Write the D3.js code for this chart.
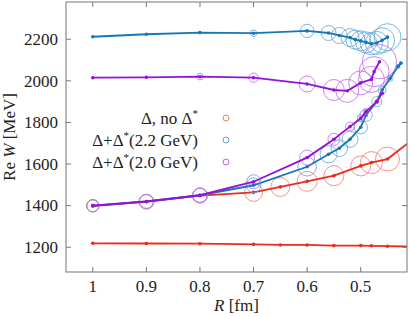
<!DOCTYPE html>
<html>
<head>
<meta charset="utf-8">
<script src="https://cdn.jsdelivr.net/npm/d3@7"></script>
<style>
  body { margin: 0; background: #fff; }
  text { font-family: "Liberation Serif", "DejaVu Serif", serif; fill: #222; }
</style>
</head>
<body>
<div id="chart"></div>
<script>
// tick labels
var xTicks = [1, 0.9, 0.8, 0.7, 0.6, 0.5];
var yTicks = [1200, 1400, 1600, 1800, 2000, 2200];

// Delta, no Delta*  (lower state has no width)
var redLowR = [1, 0.9, 0.8, 0.7, 0.65, 0.6, 0.55, 0.5, 0.48, 0.45, 0.4];
var redLowW = [1219, 1218, 1217, 1214, 1211, 1211, 1208, 1208, 1207, 1205, 1203];
var redLowG = [0, 0, 0, 0, 0, 0, 0, 0, 0, 0, 0];

var redUpR = [1, 0.9, 0.8, 0.7, 0.65, 0.6, 0.55, 0.5, 0.48, 0.45, 0.4];
var redUpW = [1398, 1419, 1448, 1464, 1490, 1517, 1544, 1591, 1607, 1624, 1724];
var redUpG = [60, 75, 75, 90, 95, 100, 100, 100, 110, 120, 0];

// Delta + Delta*(2.2 GeV)
var blueLowR = [1, 0.9, 0.8, 0.7, 0.6, 0.56, 0.54, 0.52, 0.5, 0.49, 0.47, 0.46, 0.445, 0.43, 0.425];
var blueLowW = [1400, 1420, 1450, 1498, 1587, 1647, 1676, 1719, 1777, 1835, 1900, 1956, 2012, 2070, 2085];
var blueLowG = [60, 70, 72, 73, 93, 85, 83, 80, 67, 62, 50, 40, 30, 20, 12];

var blueUpR = [1, 0.9, 0.8, 0.7, 0.6, 0.56, 0.54, 0.52, 0.51, 0.5, 0.49, 0.48, 0.47, 0.46, 0.45];
var blueUpW = [2212, 2224, 2232, 2229, 2240, 2230, 2218, 2208, 2198, 2192, 2185, 2178, 2182, 2195, 2210];
var blueUpG = [0, 0, 5, 33, 67, 75, 80, 90, 95, 100, 105, 110, 115, 125, 135];

// Delta + Delta*(2.0 GeV)
var purpLowR = [1, 0.9, 0.8, 0.7, 0.6, 0.55, 0.52, 0.5, 0.49, 0.47, 0.46];
var purpLowW = [1400, 1420, 1450, 1515, 1631, 1719, 1780, 1820, 1852, 1900, 1940];
var purpLowG = [62, 70, 73, 70, 75, 60, 45, 35, 30, 20, 15];

var purpUpR = [1, 0.9, 0.8, 0.7, 0.6, 0.55, 0.525, 0.5, 0.48, 0.475, 0.465];
var purpUpW = [2015, 2017, 2020, 2015, 1985, 1956, 1952, 1990, 2007, 2044, 2092];
var purpUpG = [0, 0, 33, 47, 80, 105, 115, 120, 130, 150, 170];

function zip(r, w, g) {
    return r.map(function(d, i) { return {r: d, w: w[i], g: g[i]}; });
}

var series = [
    {color: "#ee2a1b", circ: "#f07a72", branches: [zip(redLowR, redLowW, redLowG), zip(redUpR, redUpW, redUpG)]},
    {color: "#1677b6", circ: "#5aa8d8", branches: [zip(blueLowR, blueLowW, blueLowG), zip(blueUpR, blueUpW, blueUpG)]},
    {color: "#9412d8", circ: "#c266ee", branches: [zip(purpLowR, purpLowW, purpLowG), zip(purpUpR, purpUpW, purpUpG)]}
];

var legendLabels = [
    [{t: "Δ, no Δ"}, {t: "*", sup: true}],
    [{t: "Δ+Δ"}, {t: "*", sup: true}, {t: "(2.2 GeV)"}],
    [{t: "Δ+Δ"}, {t: "*", sup: true}, {t: "(2.0 GeV)"}]
];

var width = 409, height = 317;
var pLeft = 66, pRight = 407, pTop = 2, pBottom = 272;

var x = d3.scaleLinear().domain([1.05, 0.4136]).range([pLeft, pRight]);
var y = d3.scaleLinear().domain([1081, 2379]).range([pBottom, pTop]);
var rScale = d3.scaleLinear().domain([0, 100]).range([0, 10]);

var svg = d3.select("#chart").append("svg")
    .attr("width", width)
    .attr("height", height);

svg.append("clipPath").attr("id", "clip")
    .append("rect")
    .attr("x", pLeft).attr("y", pTop)
    .attr("width", pRight - pLeft).attr("height", pBottom - pTop);

var plot = svg.append("g").attr("clip-path", "url(#clip)");

var line = d3.line()
    .x(function(d) { return x(d.r); })
    .y(function(d) { return y(d.w); });

series.forEach(function(s) {
    s.branches.forEach(function(b) {
        plot.append("g").selectAll("circle")
            .data(b.filter(function(d) { return d.g > 0; }))
            .enter().append("circle")
            .attr("cx", function(d) { return x(d.r); })
            .attr("cy", function(d) { return y(d.w); })
            .attr("r", function(d) { return rScale(d.g); })
            .attr("fill", "none")
            .attr("stroke", s.circ)
            .attr("stroke-opacity", 0.8)
            .attr("stroke-width", 1);
    });
    s.branches.forEach(function(b) {
        plot.append("path")
            .datum(b)
            .attr("fill", "none")
            .attr("stroke", s.color)
            .attr("stroke-width", 1.8)
            .attr("d", line);
        plot.append("g").selectAll("circle")
            .data(b)
            .enter().append("circle")
            .attr("cx", function(d) { return x(d.r); })
            .attr("cy", function(d) { return y(d.w); })
            .attr("r", 1.8)
            .attr("fill", s.color);
    });
});

// frame with inward ticks on all sides
var frame = svg.append("g").attr("stroke", "#777").attr("stroke-width", 1);
frame.append("rect")
    .attr("x", pLeft).attr("y", pTop)
    .attr("width", pRight - pLeft).attr("height", pBottom - pTop)
    .attr("fill", "none");

xTicks.forEach(function(t) {
    frame.append("line").attr("x1", x(t)).attr("x2", x(t)).attr("y1", pBottom).attr("y2", pBottom - 5);
    frame.append("line").attr("x1", x(t)).attr("x2", x(t)).attr("y1", pTop).attr("y2", pTop + 5);
});
yTicks.forEach(function(t) {
    frame.append("line").attr("x1", pLeft).attr("x2", pLeft + 5).attr("y1", y(t)).attr("y2", y(t));
    frame.append("line").attr("x1", pRight).attr("x2", pRight - 5).attr("y1", y(t)).attr("y2", y(t));
});

svg.append("g").selectAll("text")
    .data(xTicks)
    .enter().append("text")
    .attr("x", function(d) { return x(d); })
    .attr("y", 292)
    .attr("text-anchor", "middle")
    .attr("font-size", 17)
    .text(function(d) { return d === 1 ? "1" : d3.format(".1f")(d); });

svg.append("g").selectAll("text")
    .data(yTicks)
    .enter().append("text")
    .attr("x", 58)
    .attr("y", function(d) { return y(d); })
    .attr("dy", "0.34em")
    .attr("text-anchor", "end")
    .attr("font-size", 17)
    .text(function(d) { return d; });

// axis titles
var xl = svg.append("text")
    .attr("x", (pLeft + pRight) / 2)
    .attr("y", 311)
    .attr("text-anchor", "middle")
    .attr("font-size", 17);
xl.append("tspan").attr("font-style", "italic").text("R");
xl.append("tspan").text(" [fm]");

var yl = svg.append("text")
    .attr("transform", "translate(15," + ((pTop + pBottom) / 2) + ") rotate(-90)")
    .attr("text-anchor", "middle")
    .attr("font-size", 17);
yl.append("tspan").text("Re ");
yl.append("tspan").attr("font-style", "italic").text("W");
yl.append("tspan").text(" [MeV]");

// legend
var legend = svg.append("g")
    .selectAll("g")
    .data(series)
    .enter().append("g")
    .attr("transform", function(d, i) { return "translate(0," + (118 + i * 22) + ")"; });

legend.append("circle")
    .attr("cx", 226)
    .attr("r", 3)
    .attr("fill", "none")
    .attr("stroke", function(d) { return d.circ; });

legend.append("text")
    .attr("x", 198)
    .attr("dy", "0.34em")
    .attr("text-anchor", "end")
    .attr("font-size", 17)
    .each(function(d, i) {
        var el = d3.select(this);
        legendLabels[i].forEach(function(p) {
            var ts = el.append("tspan").text(p.t);
            if (p.sup) ts.attr("font-size", 11).attr("dy", "-0.6em");
            else if (el.selectAll("tspan").size() > 1) ts.attr("dy", "0.39em");
        });
    });
</script>
</body>
</html>
